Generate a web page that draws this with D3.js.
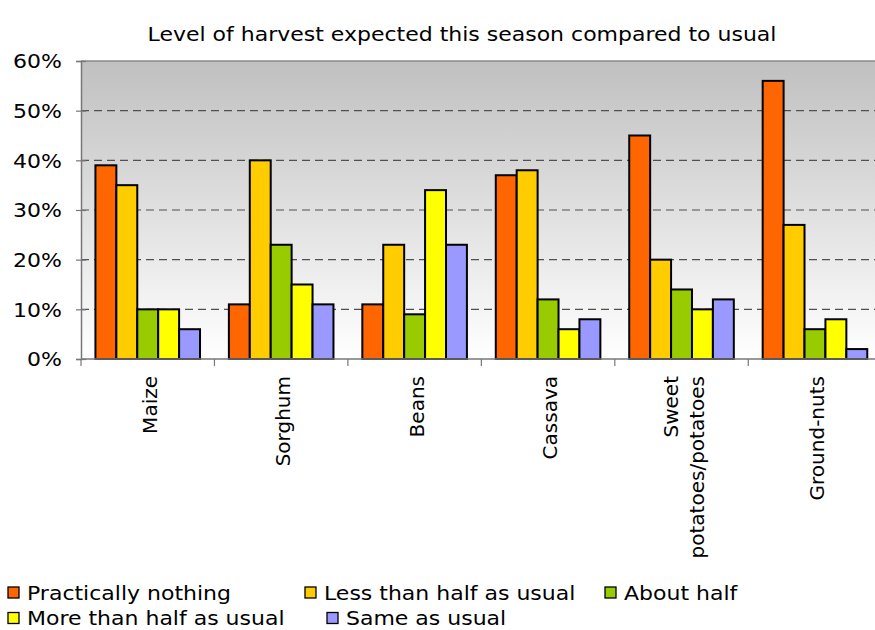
<!DOCTYPE html>
<html>
<head>
<meta charset="utf-8">
<script src="https://cdn.jsdelivr.net/npm/d3@7/dist/d3.min.js"></script>
<style>
  html, body { margin: 0; padding: 0; background: #ffffff; overflow: hidden; }
  svg { display: block; font-family: "DejaVu Sans", Verdana, sans-serif; }
</style>
</head>
<body>
<svg id="chart" width="875" height="630"></svg>
<script>
// Crops and answer groups
const categories = ["Maize", "Sorghum", "Beans", "Cassava", "Sweet potatoes/potatoes", "Ground-nuts"];
const seriesNames = ["Practically nothing", "Less than half as usual", "About half", "More than half as usual", "Same as usual"];

// Share of respondents (%) per crop, one array per answer
const practicallyNothing = [39, 11, 11, 37, 45, 56];
const lessThanHalf       = [35, 40, 23, 38, 20, 27];
const aboutHalf          = [10, 23,  9, 12, 14,  6];
const moreThanHalf       = [10, 15, 34,  6, 10,  8];
const sameAsUsual        = [ 6, 11, 23,  8, 12,  2];

const yTicks = [0, 10, 20, 30, 40, 50, 60];
const titleText = "Level of harvest expected this season compared to usual";

const seriesValues = [practicallyNothing, lessThanHalf, aboutHalf, moreThanHalf, sameAsUsual];
const seriesColors = ["#FF6600", "#FFCC00", "#99CC00", "#FFFF00", "#9999FF"];

// Layout
const plot = { left: 81, top: 61, bottom: 359, groupWidth: 133.45 };
const fontSize = 18.8;
const stretch = 1.17;          // horizontal text is drawn slightly widened
const labelFont = 20;

const svg = d3.select("#chart");

const x0 = d3.scaleBand()
  .domain(categories)
  .range([plot.left, plot.left + plot.groupWidth * categories.length])
  .paddingInner(0).paddingOuter(0);

const x1 = d3.scaleBand()
  .domain(seriesNames)
  .range([0, x0.bandwidth()])
  .paddingInner(0).paddingOuter(0.69);

const y = d3.scaleLinear().domain([0, 60]).range([plot.bottom, plot.top]);
const plotRight = x0.range()[1];

// Background gradient of the plot area
const defs = svg.append("defs");
const grad = defs.append("linearGradient")
  .attr("id", "plotBg").attr("x1", 0).attr("y1", 0).attr("x2", 0).attr("y2", 1);
grad.append("stop").attr("offset", "0%").attr("stop-color", "#c0c0c0");
grad.append("stop").attr("offset", "100%").attr("stop-color", "#ffffff");

svg.append("rect")
  .attr("x", plot.left).attr("y", y(60))
  .attr("width", plotRight - plot.left).attr("height", y(0) - y(60))
  .attr("fill", "url(#plotBg)");

// Dashed gridlines
svg.append("g").selectAll("line")
  .data(yTicks.filter(d => d > 0 && d < 60))
  .join("line")
  .attr("x1", plot.left).attr("x2", plotRight)
  .attr("y1", d => y(d)).attr("y2", d => y(d))
  .attr("stroke", "#505050").attr("stroke-width", 1.2)
  .attr("stroke-dasharray", "8,5");

// Top border of plot area
svg.append("line")
  .attr("x1", plot.left).attr("x2", plotRight)
  .attr("y1", y(60)).attr("y2", y(60))
  .attr("stroke", "#8a8a8a").attr("stroke-width", 1.5);

// Bars
const groups = svg.append("g").selectAll("g")
  .data(categories)
  .join("g")
  .attr("transform", c => `translate(${x0(c)},0)`);

groups.selectAll("rect")
  .data((c, ci) => seriesNames.map((s, si) => ({ s, si, v: seriesValues[si][ci] })))
  .join("rect")
  .attr("x", d => x1(d.s))
  .attr("y", d => y(d.v))
  .attr("width", x1.bandwidth())
  .attr("height", d => y(0) - y(d.v))
  .attr("fill", d => seriesColors[d.si])
  .attr("stroke", "#000000")
  .attr("stroke-width", 2);

// Y axis
const yAxis = svg.append("g")
  .attr("transform", `translate(${plot.left},0)`)
  .call(d3.axisLeft(y).tickValues(yTicks).tickFormat(d => d + "%").tickSize(5));
yAxis.select(".domain").attr("stroke", "#777777").attr("stroke-width", 1.5);
yAxis.selectAll(".tick line").attr("x1", 5).attr("stroke", "#777777").attr("stroke-width", 1.2);
yAxis.selectAll(".tick text")
  .attr("x", 0).attr("dy", null)
  .attr("transform", `translate(-19,${0.36 * fontSize}) scale(${stretch},1)`)
  .attr("text-anchor", "end")
  .attr("font-size", fontSize)
  .attr("font-family", "DejaVu Sans, Verdana, sans-serif")
  .attr("fill", "#000000");

// X axis line and category separators
svg.append("line")
  .attr("x1", plot.left).attr("x2", plotRight)
  .attr("y1", y(0)).attr("y2", y(0))
  .attr("stroke", "#777777").attr("stroke-width", 1.5);

svg.append("g").selectAll("line")
  .data(categories.concat([null]))
  .join("line")
  .attr("x1", c => c === null ? plotRight : x0(c))
  .attr("x2", c => c === null ? plotRight : x0(c))
  .attr("y1", y(0)).attr("y2", y(0) + 7)
  .attr("stroke", "#777777").attr("stroke-width", 1.2);

// Rotated category labels
const catLabels = svg.append("g").selectAll("text")
  .data(categories)
  .join("text")
  .attr("font-size", labelFont)
  .attr("text-anchor", "end")
  .attr("fill", "#000000")
  .attr("transform", c => {
    const cx = x0(c) + x0.bandwidth() / 2 + 9;
    return `translate(${cx},376) rotate(-90)`;
  });

catLabels.each(function(c) {
  const lines = c.split(" ");
  const n = lines.length;
  d3.select(this).selectAll("tspan")
    .data(lines)
    .join("tspan")
    .attr("x", 0)
    .attr("y", (d, i) => (i - (n - 1) / 2) * 26)
    .text(d => d);
});

// Title
svg.append("text")
  .attr("transform", `translate(462,41) scale(${stretch},1)`)
  .attr("text-anchor", "middle")
  .attr("font-size", fontSize)
  .attr("fill", "#000000")
  .text(titleText);

// Legend (two rows, second row kept inside the bottom edge)
const legendPos = [[8, 593], [305, 593], [605, 593], [8, 618.5], [327, 618.5]];
const legend = svg.append("g").selectAll("g")
  .data(seriesNames)
  .join("g")
  .attr("transform", (d, i) => `translate(${legendPos[i][0]},${legendPos[i][1]})`);

legend.append("rect")
  .attr("x", 0).attr("y", -6)
  .attr("width", 11).attr("height", 11)
  .attr("fill", (d, i) => seriesColors[i])
  .attr("stroke", "#000000").attr("stroke-width", 1.3);

legend.append("text")
  .attr("transform", `translate(19,${0.36 * fontSize}) scale(${stretch},1)`)
  .attr("font-size", fontSize)
  .attr("fill", "#000000")
  .text(d => d);
</script>
</body>
</html>
